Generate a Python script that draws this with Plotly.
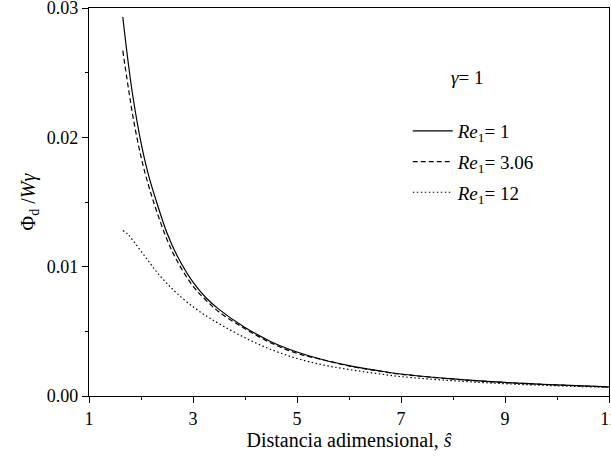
import plotly.graph_objects as go

s_vals = [1.65, 1.75, 1.85, 2.0, 2.15, 2.3, 2.5, 2.7, 3.0, 3.25, 3.5, 4.0, 4.5, 5.0, 5.5, 6.0, 6.5, 7.0, 8.0, 9.0, 10.0, 11.0]
re_1 = [0.0293, 0.0259, 0.0230, 0.0196, 0.0170, 0.0150, 0.0126, 0.0108, 0.0088, 0.0076, 0.0067, 0.0053, 0.0042, 0.0034, 0.0028, 0.00235, 0.0020, 0.0017, 0.00132, 0.00105, 0.00086, 0.00071]
re_306 = [0.0267, 0.0240, 0.0215, 0.0185, 0.0162, 0.0143, 0.0121, 0.0104, 0.0085, 0.0074, 0.0065, 0.0052, 0.0041, 0.0033, 0.0028, 0.00232, 0.00198, 0.00168, 0.00131, 0.00104, 0.00085, 0.0007]
re_12 = [0.0128, 0.0125, 0.0120, 0.0112, 0.0104, 0.0096, 0.0087, 0.0079, 0.0069, 0.0062, 0.0056, 0.0045, 0.0036, 0.0029, 0.0024, 0.00205, 0.00176, 0.0015, 0.00118, 0.00095, 0.00079, 0.00067]

series_names = ["<i>Re</i><sub>1</sub>= 1", "<i>Re</i><sub>1</sub>= 3.06", "<i>Re</i><sub>1</sub>= 12"]
x_ticks = [1, 3, 5, 7, 9, 11]
x_minor = [2, 4, 6, 8, 10]
y_ticks = [0.0, 0.01, 0.02, 0.03]
y_minor = [0.005, 0.015, 0.025]

FONT = "Times New Roman, Liberation Serif, serif"

fig = go.Figure()
styles = [dict(dash="solid"), dict(dash="5px,3px"), dict(dash="1.5px,2.5px")]
for i, (ys, name) in enumerate(zip([re_1, re_306, re_12], series_names)):
    fig.add_trace(go.Scatter(
        x=s_vals, y=ys, mode="lines", name=name, legendgroup=f"g{i}",
        line=dict(color="black", width=1.2, shape="spline", **styles[i]),
    ))

axis_common = dict(
    showline=True, linecolor="black", linewidth=1.3, mirror=True,
    ticks="outside", ticklen=6, tickwidth=1.2, tickcolor="black",
    showgrid=False, zeroline=False, automargin=False,
    ticklabeloverflow="allow",
    tickfont=dict(family=FONT, size=18, color="black"),
)

fig.update_xaxes(
    range=[1, 11], tickvals=x_ticks,
    minor=dict(ticks="outside", ticklen=3, tickvals=x_minor, tickcolor="black", tickwidth=1.2),
    title=dict(text="Distancia adimensional, <i>ŝ</i>", font=dict(family=FONT, size=20, color="black"), standoff=0),
    **axis_common,
)
fig.update_yaxes(
    range=[0, 0.03], tickvals=y_ticks, tickformat=".2f",
    minor=dict(ticks="outside", ticklen=3, tickvals=y_minor, tickcolor="black", tickwidth=1.2),
    title=dict(text="Φ<sub>d</sub> /<i>W</i><i>γ</i>", font=dict(family=FONT, size=20, color="black"), standoff=5),
    **axis_common,
)

fig.add_annotation(
    x=0.727, y=0.82, xref="paper", yref="paper", showarrow=False,
    text="<i>γ</i>= 1", font=dict(family=FONT, size=19, color="black"),
    xanchor="center", yanchor="middle",
)

fig.update_layout(
    width=611, height=463,
    margin=dict(l=89, r=2, t=8, b=67),
    paper_bgcolor="white", plot_bgcolor="white",
    font=dict(family=FONT, color="black"),
    showlegend=True,
    legend=dict(
        x=0.613, y=0.732, xanchor="left", yanchor="top",
        bgcolor="rgba(0,0,0,0)", borderwidth=0,
        font=dict(family=FONT, size=19, color="black"),
        tracegroupgap=3, itemwidth=40,
    ),
)

fig.write_html(
    "out.html",
    config={"displayModeBar": False},
    post_script="document.body.style.margin='0';document.body.style.padding='0';",
)
